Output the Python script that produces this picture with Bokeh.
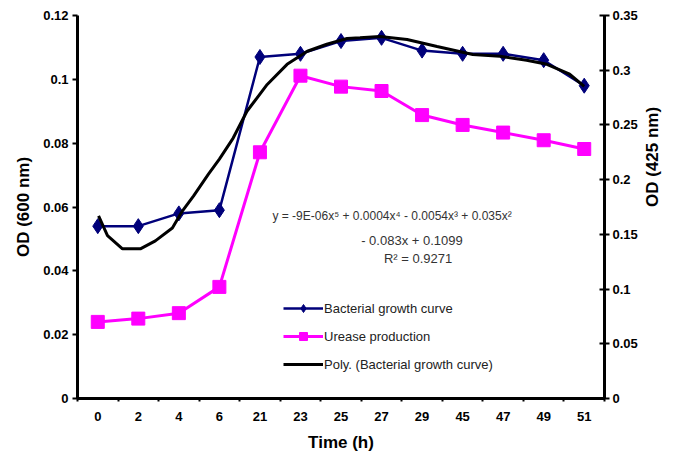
import math
from bokeh.plotting import figure
from bokeh.models import Range1d, LinearAxis, FixedTicker, Legend, LegendItem, Label, Title, ColumnDataSource
from bokeh.embed import file_html
from bokeh.resources import INLINE

# ---- data ----
hours = ["0", "2", "4", "6", "21", "23", "25", "27", "29", "45", "47", "49", "51"]
bacterial = [0.054, 0.054, 0.058, 0.059, 0.107, 0.108, 0.112, 0.113, 0.109, 0.108, 0.108, 0.106, 0.098]
urease = [0.070, 0.073, 0.078, 0.102, 0.225, 0.295, 0.285, 0.281, 0.259, 0.250, 0.243, 0.236, 0.228]
# polynomial trend line (position in category units, OD 600)
trend_pos = [0.02, 0.24, 0.61, 1.05, 1.42, 1.84, 2.09, 2.36, 2.73, 3.0, 3.34, 3.68, 4.18, 4.67,
             5.17, 5.65, 6.15, 6.47, 6.96, 7.63, 8.37, 9.25, 9.92, 10.58, 11.08, 11.64, 12.0]
trend_val = [0.0572, 0.051, 0.0469, 0.0469, 0.0494, 0.0534, 0.0588, 0.0634, 0.0703, 0.075, 0.0816,
             0.090, 0.0984, 0.1047, 0.1088, 0.111, 0.1128, 0.113, 0.1134, 0.1125, 0.1103, 0.1078,
             0.1072, 0.106, 0.1047, 0.1016, 0.0978]
left_ticks = [0, 0.02, 0.04, 0.06, 0.08, 0.1, 0.12]
left_labels = ["0", "0.02", "0.04", "0.06", "0.08", "0.1", "0.12"]
right_ticks = [0, 0.05, 0.1, 0.15, 0.2, 0.25, 0.3, 0.35]
right_labels = ["0", "0.05", "0.1", "0.15", "0.2", "0.25", "0.3", "0.35"]
x_title = "Time (h)"
left_title = "OD (600 nm)"
right_title = "OD (425 nm)"
eq_line1 = "y = -9E-06x\u2075 + 0.0004x\u2074 - 0.0054x\u00b3 + 0.035x\u00b2"
eq_line2 = "- 0.083x + 0.1099"
eq_line3 = "R\u00b2 = 0.9271"

FONT = "Liberation Sans"
idx = list(range(len(hours)))

p = figure(width=674, height=464, output_backend="svg", toolbar_location=None,
           x_range=Range1d(-0.5, len(hours) - 0.5), y_range=Range1d(0, 0.12),
           min_border_left=77, min_border_right=69, min_border_top=15, min_border_bottom=66)
p.extra_y_ranges = {"right": Range1d(0, 0.35)}
p.xgrid.visible = False
p.ygrid.visible = False
p.outline_line_color = None
p.background_fill_color = "white"
p.border_fill_color = "white"

# ---- axes ----
xa = p.xaxis[0]
xa.ticker = FixedTicker(ticks=idx, minor_ticks=[i - 0.5 for i in range(len(hours) + 1)])
xa.major_label_overrides = {i: h for i, h in zip(idx, hours)}
xa.major_tick_line_color = None
xa.major_tick_out = 3
xa.minor_tick_out = 3
xa.minor_tick_in = 1
xa.minor_tick_line_width = 2
xa.minor_tick_line_color = "black"

ya = p.yaxis[0]
ya.ticker = FixedTicker(ticks=left_ticks, minor_ticks=[])
ya.major_label_overrides = {t: l for t, l in zip(left_ticks, left_labels)}
ya.major_tick_out = 5
ya.major_tick_in = 0
ya.minor_tick_line_color = None

ra = LinearAxis(y_range_name="right", axis_label=right_title,
                axis_label_orientation=math.pi / 2)
ra.ticker = FixedTicker(ticks=right_ticks, minor_ticks=[])
ra.major_label_overrides = {t: l for t, l in zip(right_ticks, right_labels)}
ra.major_tick_out = 5
ra.major_tick_in = 5
ra.minor_tick_line_color = None
ra.axis_label_standoff = 12
ra.axis_label_text_font = FONT
ra.axis_label_text_font_style = "bold"
ra.axis_label_text_font_size = "17px"
ra.axis_label_text_color = "black"
p.add_layout(ra, "right")

for ax in (xa, ya, ra):
    ax.axis_line_width = 3
    ax.axis_line_color = "black"
    ax.major_tick_line_width = 2
    ax.major_label_text_font = FONT
    ax.major_label_text_font_style = "bold"
    ax.major_label_text_font_size = "13px"
    ax.major_label_text_color = "black"
ya.major_label_standoff = 4
ra.major_label_standoff = 3
xa.major_label_standoff = 10

# ---- axis titles placed off-centre as in the reference ----
tkw = dict(text_font=FONT, text_font_style="bold", text_font_size="17px", text_color="black",
           align="center")
p.add_layout(Title(text=left_title, offset=28, standoff=15, **tkw), "left")
p.add_layout(Title(text=x_title, offset=-18, standoff=15, **tkw), "below")

# ---- series ----
src = ColumnDataSource(dict(x=idx, bac=bacterial, ure=urease))
tsrc = ColumnDataSource(dict(x=trend_pos, y=trend_val))

navy = "#00007a"
mag = "#ff00ff"
bl = p.line("x", "bac", source=src, line_color=navy, line_width=2.5)
bm = p.scatter("x", "bac", source=src, marker="diamond", size=15, fill_color=navy, line_color=navy)
ul = p.line("x", "ure", source=src, line_color=mag, line_width=3, y_range_name="right")
um = p.scatter("x", "ure", source=src, marker="square", size=13, fill_color=mag, line_color=mag,
               y_range_name="right")
tl = p.line("x", "y", source=tsrc, line_color="black", line_width=3)

# ---- equation ----
for txt, xx, yy, fs in [(eq_line1, 7.26, 0.0572, "12px"), (eq_line2, 7.75, 0.0494, "13px"),
                        (eq_line3, 7.9, 0.0440, "13px")]:
    p.add_layout(Label(x=xx, y=yy, text=txt, text_align="center", text_baseline="middle",
                       text_font=FONT, text_font_size=fs, text_color="#333333"))

# ---- legend ----
legend = Legend(items=[LegendItem(label="Bacterial growth curve", renderers=[bl, bm]),
                       LegendItem(label="Urease production", renderers=[ul, um]),
                       LegendItem(label="Poly. (Bacterial growth curve)", renderers=[tl])],
                location=(206, 24), orientation="vertical",
                glyph_width=40, glyph_height=20, label_height=20, spacing=8,
                label_standoff=1, padding=0, margin=0,
                border_line_color=None, background_fill_alpha=0,
                label_text_font=FONT, label_text_font_size="13px", label_text_color="#222222")
p.add_layout(legend, "center")

open("out.html", "w").write(file_html(p, INLINE))
